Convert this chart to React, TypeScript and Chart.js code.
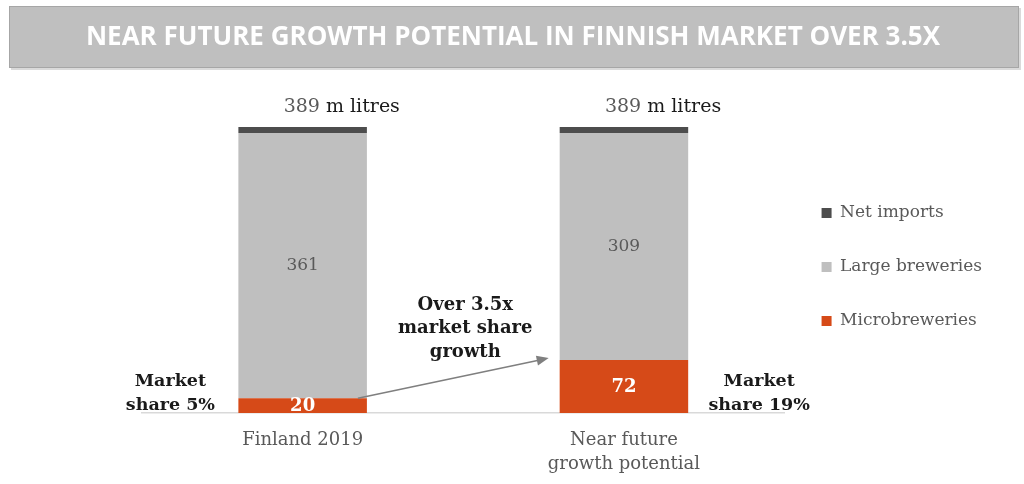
import React, { useEffect, useRef } from "react";
import { Chart, registerables } from "chart.js";

Chart.register(...registerables);

const titleText = "NEAR FUTURE GROWTH POTENTIAL IN FINNISH MARKET OVER 3.5X";
const categories = [["Finland 2019"], ["Near future", "growth potential"]];
const seriesNames = ["Microbreweries", "Large breweries", "Net imports"];
const microbreweries = [20, 72];
const largeBreweries = [361, 309];
const netImports = [8, 8];
const totalUnit = "m litres";
const marketShares = ["5%", "19%"];
const growthNote = ["Over 3.5x", "market share", "growth"];

const SERIF = "'DejaVu Serif', serif";

const bannerPlugin = {
  id: "banner",
  beforeDraw(chart: any) {
    const ctx = chart.ctx as CanvasRenderingContext2D;
    ctx.save();
    ctx.fillStyle = "#ffffff";
    ctx.fillRect(0, 0, chart.width, chart.height);
    ctx.fillStyle = "#dadada";
    ctx.fillRect(11, 8, 1010, 62);
    ctx.fillStyle = "#bfbfbf";
    ctx.fillRect(9, 6, 1010, 62);
    ctx.strokeStyle = "#a6a6a6";
    ctx.lineWidth = 1;
    ctx.strokeRect(9.5, 6.5, 1009, 61);
    ctx.fillStyle = "#ffffff";
    ctx.font = "bold 26px 'Open Sans', sans-serif";
    ctx.textAlign = "center";
    ctx.textBaseline = "middle";
    ctx.fillText(titleText, 513, 38);
    ctx.restore();
  },
};

const labelsPlugin = {
  id: "barLabels",
  afterDatasetsDraw(chart: any) {
    const ctx = chart.ctx as CanvasRenderingContext2D;
    const microMeta = chart.getDatasetMeta(0);
    const largeMeta = chart.getDatasetMeta(1);
    const netMeta = chart.getDatasetMeta(2);
    ctx.save();
    ctx.textBaseline = "middle";
    ctx.textAlign = "center";
    largeMeta.data.forEach((el: any, i: number) => {
      const p = el.getProps(["x", "y", "base"], true);
      ctx.fillStyle = "#595959";
      ctx.font = `17px ${SERIF}`;
      ctx.fillText(String(largeBreweries[i]), p.x, (p.y + p.base) / 2);
    });
    microMeta.data.forEach((el: any, i: number) => {
      const p = el.getProps(["x", "y", "base"], true);
      ctx.fillStyle = "#ffffff";
      ctx.font = `bold 18px ${SERIF}`;
      ctx.fillText(String(microbreweries[i]), p.x, (p.y + p.base) / 2 + 1);
    });
    netMeta.data.forEach((el: any, i: number) => {
      const p = el.getProps(["x", "y", "base"], true);
      const total = microbreweries[i] + largeBreweries[i] + netImports[i];
      ctx.textAlign = "left";
      ctx.font = `19px ${SERIF}`;
      const startX = p.x - 19;
      const ty = p.y - 20;
      ctx.fillStyle = "#595959";
      const numText = String(total);
      ctx.fillText(numText, startX, ty);
      const w = ctx.measureText(numText).width;
      ctx.fillStyle = "#1a1a1a";
      ctx.fillText(" " + totalUnit, startX + w, ty);
    });
    const b0 = microMeta.data[0].getProps(["x", "y", "base", "width"], true);
    const b1 = microMeta.data[1].getProps(["x", "y", "base", "width"], true);
    ctx.textAlign = "center";
    ctx.fillStyle = "#1a1a1a";
    ctx.font = `bold 17.5px ${SERIF}`;
    const lx = b0.x - b0.width / 2 - 68;
    ctx.fillText("Market", lx, b0.base - 32);
    ctx.fillText("share " + marketShares[0], lx, b0.base - 8);
    const rx = b1.x + b1.width / 2 + 71;
    ctx.fillText("Market", rx, b1.base - 32);
    ctx.fillText("share " + marketShares[1], rx, b1.base - 8);
    ctx.font = `bold 18px ${SERIF}`;
    const nx = (b0.x + b1.x) / 2 + 2;
    growthNote.forEach((t, k) => {
      ctx.fillText(t, nx, b0.base - 108 + k * 23.5);
    });
    const ax0 = b0.x + b0.width / 2 - 9;
    const ay0 = b0.y;
    const ax1 = b1.x - b1.width / 2 - 11;
    const ay1 = b1.y - 2;
    const ang = Math.atan2(ay1 - ay0, ax1 - ax0);
    ctx.strokeStyle = "#7f7f7f";
    ctx.fillStyle = "#7f7f7f";
    ctx.lineWidth = 1.5;
    ctx.beginPath();
    ctx.moveTo(ax0, ay0);
    ctx.lineTo(ax1 - 9 * Math.cos(ang), ay1 - 9 * Math.sin(ang));
    ctx.stroke();
    ctx.beginPath();
    ctx.moveTo(ax1, ay1);
    ctx.lineTo(ax1 - 12 * Math.cos(ang) + 5 * Math.sin(ang), ay1 - 12 * Math.sin(ang) - 5 * Math.cos(ang));
    ctx.lineTo(ax1 - 12 * Math.cos(ang) - 5 * Math.sin(ang), ay1 - 12 * Math.sin(ang) + 5 * Math.cos(ang));
    ctx.closePath();
    ctx.fill();
    ctx.restore();
  },
};

export default function App() {
  const ref = useRef<HTMLCanvasElement | null>(null);
  useEffect(() => {
    document.body.style.margin = "0";
    if (!ref.current) return;
    const chart = new Chart(ref.current, {
      type: "bar",
      data: {
        labels: categories as any,
        datasets: [
          {
            label: seriesNames[0],
            data: microbreweries,
            backgroundColor: "#d64a18",
            barPercentage: 0.4,
            categoryPercentage: 1,
          },
          {
            label: seriesNames[1],
            data: largeBreweries,
            backgroundColor: "#bfbfbf",
            barPercentage: 0.4,
            categoryPercentage: 1,
          },
          {
            label: seriesNames[2],
            data: netImports,
            backgroundColor: "#4d4d4d",
            barPercentage: 0.4,
            categoryPercentage: 1,
          },
        ],
      },
      options: {
        animation: false,
        responsive: false,
        maintainAspectRatio: false,
        events: [],
        layout: { padding: { top: 127, left: 142, right: 32, bottom: 0 } },
        scales: {
          x: {
            stacked: true,
            grid: { display: false, drawTicks: false },
            border: { display: true, color: "#d9d9d9", width: 1.5 },
            ticks: {
              color: "#595959",
              font: { family: SERIF, size: 18, lineHeight: 1.333 },
              padding: 15,
              maxRotation: 0,
            },
            afterFit: (scale: any) => {
              scale.height = 71;
            },
          },
          y: {
            stacked: true,
            display: false,
            min: 0,
            max: 389,
          },
        },
        plugins: {
          legend: {
            position: "right",
            reverse: true,
            align: "start",
            title: { display: true, text: "", padding: { top: 26.1, bottom: 0 } },
            labels: {
              boxWidth: 10,
              boxHeight: 10,
              padding: 37,
              color: "#595959",
              font: { family: SERIF, size: 17 },
            },
          },
          tooltip: { enabled: false },
          title: { display: false },
        },
      },
      plugins: [bannerPlugin, labelsPlugin],
    });
    return () => chart.destroy();
  }, []);
  return (
    <div style={{ width: 1024, height: 484, position: "relative" }}>
      <canvas ref={ref} width={1024} height={484} style={{ display: "block", width: 1024, height: 484 }} />
    </div>
  );
}
